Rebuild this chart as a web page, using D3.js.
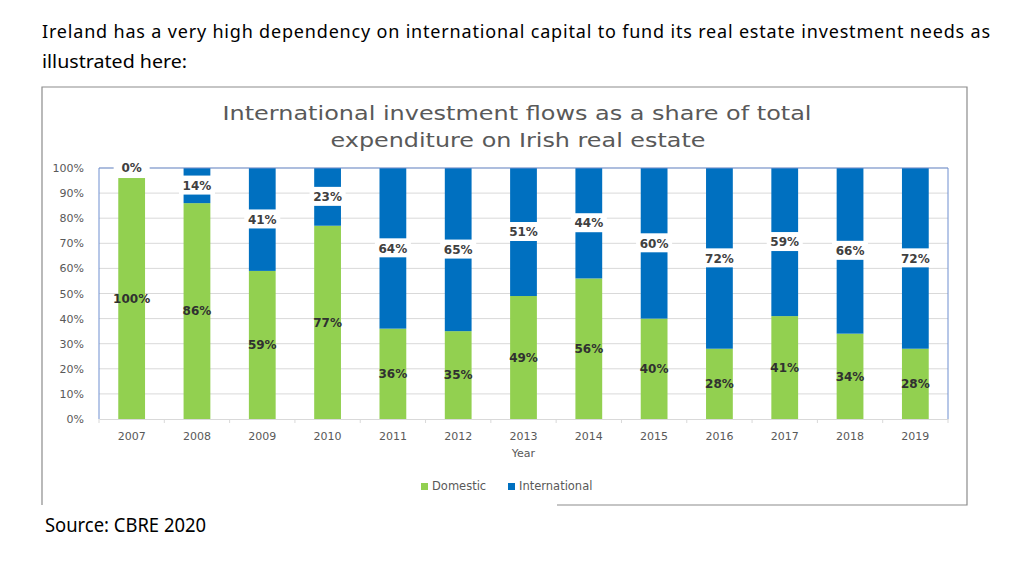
<!DOCTYPE html>
<html>
<head>
<meta charset="utf-8">
<script src="https://cdn.jsdelivr.net/npm/d3@7"></script>
<style>
  body { margin: 0; background: #fff; }
  svg { display: block; }
</style>
</head>
<body>
<div id="chart"></div>
<script>
var years = ["2007","2008","2009","2010","2011","2012","2013","2014","2015","2016","2017","2018","2019"];
var domestic = [96, 86, 59, 77, 36, 35, 49, 56, 40, 28, 41, 34, 28];
var international = [0, 14, 41, 23, 64, 65, 51, 44, 60, 72, 59, 66, 72];
var domesticLabels = ["100%","86%","59%","77%","36%","35%","49%","56%","40%","28%","41%","34%","28%"];
var internationalLabels = ["0%","14%","41%","23%","64%","65%","51%","44%","60%","72%","59%","66%","72%"];
var yTicks = [0, 10, 20, 30, 40, 50, 60, 70, 80, 90, 100];
var seriesNames = ["Domestic", "International"];
var colors = { Domestic: "#92d050", International: "#0070c0" };

var width = 1035, height = 570;
var plot = { left: 99, right: 948, top: 168, bottom: 419 };
var chartFont = "'DejaVu Sans', Verdana, sans-serif";
var docFont = "'Noto Sans', 'Open Sans', sans-serif";

var svg = d3.select("#chart").append("svg")
    .attr("width", width)
    .attr("height", height);

// document text around the chart
svg.append("text")
    .attr("x", 42).attr("y", 38)
    .attr("textLength", 948).attr("lengthAdjust", "spacing")
    .style("font-family", docFont).style("font-size", "18px").style("fill", "#000")
    .text("Ireland has a very high dependency on international capital to fund its real estate investment needs as");
svg.append("text")
    .attr("x", 42).attr("y", 68)
    .attr("textLength", 145).attr("lengthAdjust", "spacingAndGlyphs")
    .style("font-family", docFont).style("font-size", "18px").style("fill", "#000")
    .text("illustrated here:");
svg.append("text")
    .attr("x", 45).attr("y", 532)
    .attr("textLength", 161).attr("lengthAdjust", "spacingAndGlyphs")
    .style("font-family", docFont).style("font-size", "19px").style("fill", "#000")
    .text("Source: CBRE 2020");

// chart frame (bottom-left part cut off in the screenshot)
svg.append("path")
    .attr("d", "M42,505 L42,87 L967,87 L967,505 L557,505")
    .attr("fill", "none")
    .attr("stroke", "#8c8c8c")
    .attr("stroke-width", 1.2);

// title
svg.append("text")
    .attr("x", 517).attr("y", 120)
    .attr("text-anchor", "middle")
    .attr("textLength", 589).attr("lengthAdjust", "spacingAndGlyphs")
    .style("font-family", chartFont).style("font-size", "19px").style("fill", "#595959")
    .text("International investment flows as a share of total");
svg.append("text")
    .attr("x", 518).attr("y", 147)
    .attr("text-anchor", "middle")
    .attr("textLength", 375).attr("lengthAdjust", "spacingAndGlyphs")
    .style("font-family", chartFont).style("font-size", "19px").style("fill", "#595959")
    .text("expenditure on Irish real estate");

var x = d3.scaleBand()
    .domain(years)
    .range([plot.left, plot.right])
    .paddingInner(0.59)
    .paddingOuter(0.295);

var y = d3.scaleLinear()
    .domain([0, 100])
    .range([plot.bottom, plot.top]);

// gridlines
svg.append("g")
    .selectAll("line")
    .data(yTicks.filter(function(d){ return d > 0; }))
    .enter()
    .append("line")
    .attr("x1", plot.left).attr("x2", plot.right)
    .attr("y1", function(d){ return y(d); })
    .attr("y2", function(d){ return y(d); })
    .attr("stroke", "#d9d9d9")
    .attr("stroke-width", 1);

// y axis
var yAxis = svg.append("g")
    .attr("transform", "translate(" + plot.left + ",0)")
    .call(d3.axisLeft(y).tickValues(yTicks).tickSize(0).tickPadding(15)
        .tickFormat(function(d){ return d + "%"; }));
yAxis.select(".domain").remove();
yAxis.selectAll("text")
    .style("font-family", chartFont).style("font-size", "11px").style("fill", "#595959");

// stacked bars
var table = years.map(function(yr, i){
    return { year: yr, Domestic: domestic[i], International: international[i] };
});
var stacked = d3.stack().keys(seriesNames)(table);

svg.append("g")
    .selectAll("g")
    .data(stacked)
    .enter()
    .append("g")
    .attr("fill", function(d){ return colors[d.key]; })
    .selectAll("rect")
    .data(function(d){ return d; })
    .enter()
    .append("rect")
    .attr("x", function(d){ return x(d.data.year); })
    .attr("width", x.bandwidth())
    .attr("y", function(d){ return y(d[1]); })
    .attr("height", function(d){ return y(d[0]) - y(d[1]); });

// plot border (blue) left, top, right
svg.append("path")
    .attr("d", "M" + plot.left + "," + plot.bottom + " L" + plot.left + "," + plot.top +
               " L" + plot.right + "," + plot.top + " L" + plot.right + "," + plot.bottom)
    .attr("fill", "none")
    .attr("stroke", "#6f8fd0")
    .attr("stroke-width", 1);

// x axis
var xAxis = svg.append("g")
    .attr("transform", "translate(0," + plot.bottom + ")")
    .call(d3.axisBottom(x).tickSize(0).tickPadding(13));
xAxis.select(".domain").attr("stroke", "#d9d9d9");
xAxis.selectAll("text")
    .style("font-family", chartFont).style("font-size", "11px").style("fill", "#595959");
xAxis.selectAll(".cat-tick")
    .data(d3.range(years.length + 1))
    .enter()
    .append("line")
    .attr("class", "cat-tick")
    .attr("x1", function(i){ return plot.left + i * x.step(); })
    .attr("x2", function(i){ return plot.left + i * x.step(); })
    .attr("y1", 0).attr("y2", 4)
    .attr("stroke", "#d9d9d9");

svg.append("text")
    .attr("x", (plot.left + plot.right) / 2).attr("y", 457)
    .attr("text-anchor", "middle")
    .style("font-family", chartFont).style("font-size", "11px").style("fill", "#595959")
    .text("Year");

// domestic labels (centre of green segment)
svg.append("g")
    .selectAll("text")
    .data(stacked[0])
    .enter()
    .append("text")
    .attr("x", function(d){ return x(d.data.year) + x.bandwidth() / 2; })
    .attr("y", function(d){ return y((d[0] + d[1]) / 2); })
    .attr("dy", "0.35em")
    .attr("text-anchor", "middle")
    .style("font-family", chartFont).style("font-size", "12px").style("font-weight", "bold")
    .style("fill", "#303030")
    .text(function(d, i){ return domesticLabels[i]; });

// international labels with white boxes
var intLab = svg.append("g")
    .selectAll("g")
    .data(stacked[1])
    .enter()
    .append("g")
    .attr("transform", function(d){
        var mid = d[1] > d[0] ? (d[0] + d[1]) / 2 : 100;
        return "translate(" + (x(d.data.year) + x.bandwidth() / 2) + "," + y(mid) + ")";
    });
intLab.append("rect")
    .attr("x", -18).attr("y", -10)
    .attr("width", 36).attr("height", 19)
    .attr("fill", "#fff");
intLab.append("text")
    .attr("dy", "0.35em")
    .attr("text-anchor", "middle")
    .style("font-family", chartFont).style("font-size", "12px").style("font-weight", "bold")
    .style("fill", "#404040")
    .text(function(d, i){ return internationalLabels[i]; });

// legend
var legend = svg.append("g")
    .selectAll("g")
    .data(seriesNames)
    .enter()
    .append("g")
    .attr("transform", function(d, i){ return "translate(" + (421 + i * 87) + ",486)"; });
legend.append("rect")
    .attr("x", 0).attr("y", -3)
    .attr("width", 7).attr("height", 7)
    .attr("fill", function(d){ return colors[d]; });
legend.append("text")
    .attr("x", 11).attr("dy", "0.35em")
    .style("font-family", chartFont).style("font-size", "11.5px").style("fill", "#595959")
    .text(function(d){ return d; });
</script>
</body>
</html>
